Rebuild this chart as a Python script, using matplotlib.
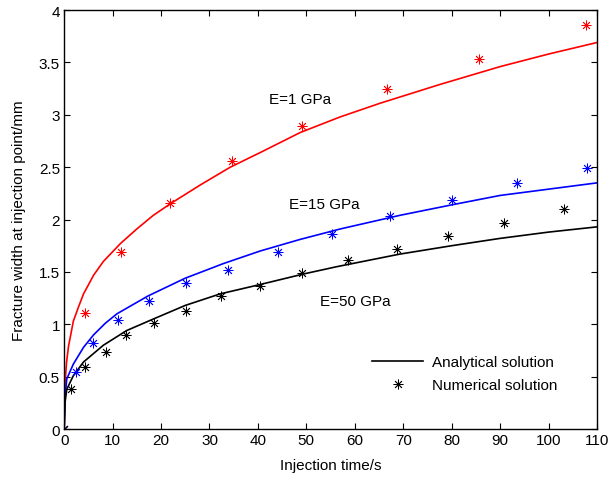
import numpy as np
import matplotlib
matplotlib.use("Agg")
import matplotlib.pyplot as plt

plt.rcParams['font.family'] = ['Liberation Sans', 'DejaVu Sans']
plt.rcParams['font.size'] = 11

# numerical solution (markers)
t_num_1 = [0, 4.3, 11.8, 21.9, 34.7, 49.1, 66.6, 85.7, 107.7]
w_num_1 = [0, 1.11, 1.69, 2.16, 2.56, 2.89, 3.25, 3.53, 3.86]
t_num_15 = [0, 2.4, 6.0, 11.1, 17.5, 25.1, 33.9, 44.1, 55.3, 67.3, 80.1, 93.5, 108.0]
w_num_15 = [0, 0.54, 0.82, 1.04, 1.22, 1.39, 1.52, 1.69, 1.86, 2.03, 2.19, 2.35, 2.49]
t_num_50 = [0, 1.4, 4.3, 8.6, 12.8, 18.5, 25.1, 32.4, 40.5, 49.1, 58.6, 68.7, 79.3, 90.8, 103.2]
w_num_50 = [0, 0.38, 0.59, 0.74, 0.90, 1.01, 1.13, 1.27, 1.37, 1.49, 1.61, 1.72, 1.84, 1.97, 2.10]

# analytical solution (lines)
t_ana_1 = [0, 0.2, 0.5, 0.9, 1.9, 3.0, 4.0, 6.1, 8.1, 11.6, 15.0, 18.4, 21.9, 28.1, 34.3,
           40.5, 48.7, 57, 65.2, 77.6, 90, 100, 110]
w_ana_1 = [0, 0.45, 0.64, 0.79, 1.03, 1.17, 1.29, 1.47, 1.60, 1.77, 1.91, 2.04, 2.15, 2.33, 2.50,
           2.64, 2.83, 2.98, 3.11, 3.29, 3.46, 3.58, 3.69]
t_ana_15 = [0, 0.2, 0.55, 1.9, 4.0, 6.1, 8.5, 10.9, 17.3, 25, 32.9, 40.5, 48.7, 57,
            69.3, 80, 90, 100, 110]
w_ana_15 = [0, 0.32, 0.48, 0.62, 0.78, 0.90, 1.01, 1.10, 1.27, 1.44, 1.58, 1.70, 1.81, 1.91,
            2.04, 2.14, 2.23, 2.29, 2.35]
t_ana_50 = [0, 0.2, 0.55, 1.9, 4.0, 8.1, 12.9, 18.4, 25, 32.2, 40.5, 49.4, 56.3, 69.3,
            80, 90, 100, 110]
w_ana_50 = [0, 0.26, 0.38, 0.51, 0.64, 0.80, 0.94, 1.05, 1.18, 1.29, 1.38, 1.48, 1.55, 1.67,
            1.75, 1.82, 1.88, 1.93]

star = (8, 2, 0)

fig = plt.figure(figsize=(6.11, 4.81), dpi=100)
ax = fig.add_axes([0.105, 0.106, 0.872, 0.871])

ax.plot(t_ana_1, w_ana_1, color='red', lw=1.2)
ax.plot(t_ana_15, w_ana_15, color='blue', lw=1.2)
ax.plot(t_ana_50, w_ana_50, color='black', lw=1.2, label='Analytical solution')

ax.plot(t_num_1, w_num_1, ls='none', marker=star, ms=7, mew=0.6, color='red')
ax.plot(t_num_15, w_num_15, ls='none', marker=star, ms=7, mew=0.6, color='blue')
ax.plot(t_num_50, w_num_50, ls='none', marker=star, ms=7, mew=0.6, color='black',
        label='Numerical solution')

ax.text(42.3, 3.15, 'E=1 GPa', va='center')
ax.text(46.4, 2.15, 'E=15 GPa', va='center')
ax.text(52.8, 1.22, 'E=50 GPa', va='center')

ax.set_xlim(0, 110)
ax.set_ylim(0, 4)
ax.set_xticks(np.arange(0, 111, 10))
ax.set_yticks(np.arange(0, 4.01, 0.5))
ax.set_yticklabels(['0', '0.5', '1', '1.5', '2', '2.5', '3', '3.5', '4'])
ax.tick_params(direction='in', top=True, right=True, length=4, width=0.8, pad=3)
for s in ax.spines.values():
    s.set_linewidth(1.0)

ax.set_xlabel('Injection time/s', labelpad=8)
ax.set_ylabel('Fracture width at injection point/mm', labelpad=9)

ax.legend(loc='lower right', bbox_to_anchor=(0.94, 0.07), frameon=False,
          handlelength=3.3, borderpad=0, labelspacing=0.6, handletextpad=0.6)

fig.savefig('out.png', dpi=100)
